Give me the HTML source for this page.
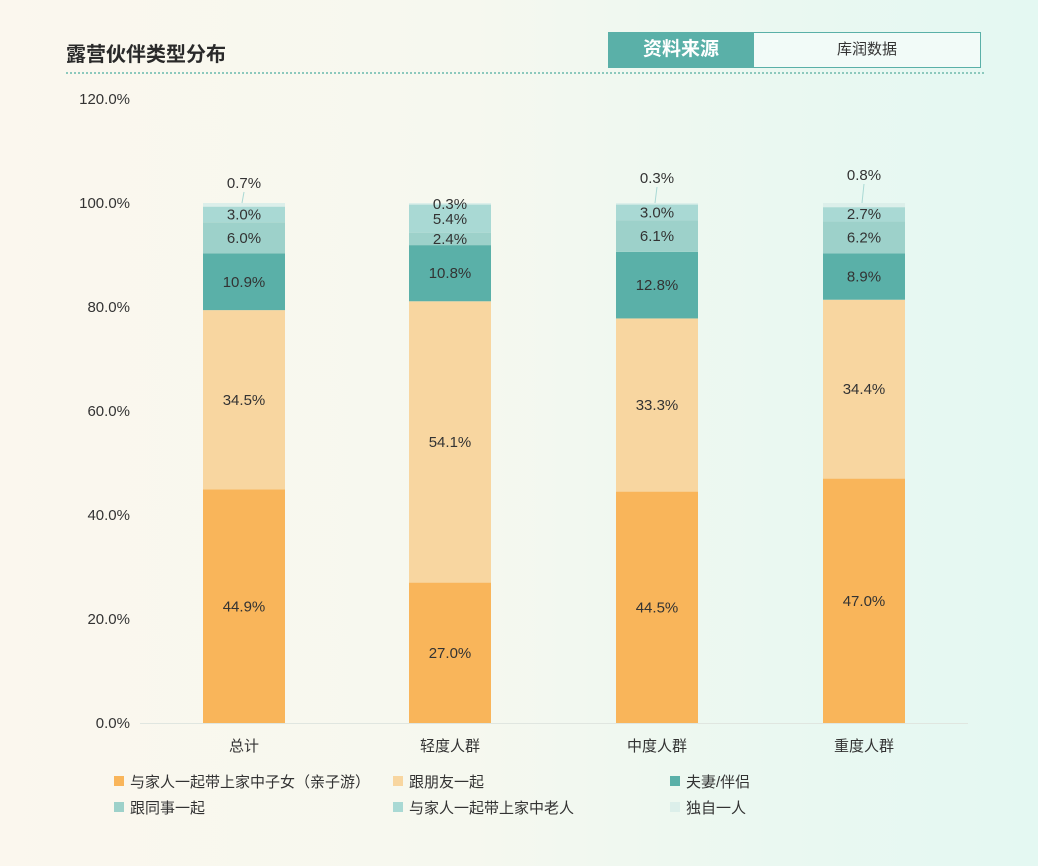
<!DOCTYPE html>
<html><head><meta charset="utf-8"><style>
html,body{margin:0;padding:0}
body{width:1038px;height:866px;overflow:hidden;background:linear-gradient(90deg,#fbf7ee 0%,#f6f8ef 45%,#eaf8f1 75%,#e4f8f2 100%);font-family:"Liberation Sans","Noto Sans CJK SC",sans-serif;position:relative}
.t{position:absolute;left:66px;top:38px;font-size:20px;font-weight:bold;color:#2a2a2a}
.hr{position:absolute;left:66px;top:72px;width:918px;border-top:2px dotted #8cc9bd}
.src{position:absolute;left:608px;top:32px;width:146px;height:36px;background:#5ab0a8;color:#fff;font-size:19px;font-weight:bold;text-align:center;line-height:36px}
.src2{position:absolute;left:754px;top:32px;width:226px;height:34px;border:1px solid #5ab0a8;border-left:none;background:#f2fbf8;color:#333;font-size:15px;text-align:center;line-height:34px}
</style></head><body>
<div class="t">露营伙伴类型分布</div>
<div class="src">资料来源</div><div class="src2">库润数据</div>
<div class="hr"></div>
<svg id="c" width="1038" height="866" style="position:absolute;left:0;top:0" font-family="Liberation Sans, Noto Sans CJK SC, sans-serif"></svg>
<script>
var s='';
var base=723,k=5.2;
for(var i=0;i<=6;i++){var v=i*20,y=base-v*k;s+='<text x="130" y="'+(y+5)+'" font-size="15" fill="#333" text-anchor="end">'+v.toFixed(1)+'%</text>';}
s+='<line x1="140" y1="723.5" x2="968" y2="723.5" stroke="#e0e6e0"/>';
var cols=['#f9b55a','#f8d6a0','#5ab0a8','#9dd1ca','#a9d9d4','#dcefea'];
var data=[[44.9,34.5,10.9,6.0,3.0,0.7],[27.0,54.1,10.8,2.4,5.4,0.3],[44.5,33.3,12.8,6.1,3.0,0.3],[47.0,34.4,8.9,6.2,2.7,0.8]];
var cats=['总计','轻度人群','中度人群','重度人群'];
var cx=[244,450,657,864];
var topLab=[183,204,178,175];
for(var b=0;b<4;b++){var acc=0;
 for(var j=0;j<6;j++){var v=data[b][j];var y0=base-acc*k,y1=base-(acc+v)*k;
  s+='<rect x="'+(cx[b]-41)+'" y="'+y1+'" width="82" height="'+(y0-y1)+'" fill="'+cols[j]+'"/>';
  var ly=(y0+y1)/2+5;
  if(j==5){ly=topLab[b]+5; if(b!=1) s+='<line x1="'+cx[b]+'" y1="'+(ly+4)+'" x2="'+(cx[b]-2)+'" y2="'+y1+'" stroke="#a9d9d4"/>';}
  if(b==1&&j==4)ly=219+5;
  if(b==1&&j==3)ly=239+5;
  s+='<text x="'+cx[b]+'" y="'+ly+'" font-size="15" fill="#333" text-anchor="middle">'+v.toFixed(1)+'%</text>';
  acc+=v;}
 s+='<text x="'+cx[b]+'" y="751" font-size="15" fill="#333" text-anchor="middle">'+cats[b]+'</text>';
}
var leg=[['与家人一起带上家中子女（亲子游）',114,782],['跟朋友一起',393,782],['夫妻/伴侣',670,782],['跟同事一起',114,808],['与家人一起带上家中老人',393,808],['独自一人',670,808]];
for(var i=0;i<6;i++){var L=leg[i];s+='<rect x="'+L[1]+'" y="'+(L[2]-6)+'" width="10" height="10" fill="'+cols[i]+'"/>';
 s+='<text x="'+(L[1]+16)+'" y="'+(L[2]+5)+'" font-size="15" fill="#333">'+L[0]+'</text>';}
document.getElementById('c').innerHTML=s;
</script>
</body></html>
